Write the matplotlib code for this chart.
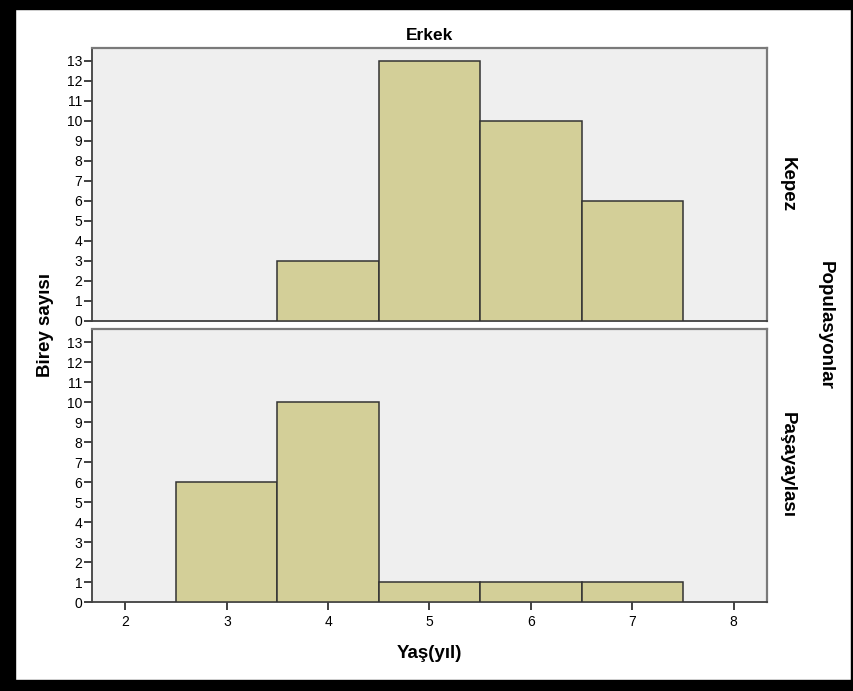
import matplotlib.pyplot as plt
from matplotlib.patches import Rectangle

plt.rcParams['font.family'] = ['Liberation Sans', 'DejaVu Sans']

ages = [3, 4, 5, 6, 7]
kepez = [0, 3, 13, 10, 6]
pasayaylasi = [6, 10, 1, 1, 1]
panel_names = ["Kepez", "Paşayaylası"]
x_ticks = [2, 3, 4, 5, 6, 7, 8]
y_ticks = list(range(0, 14))

bar_color = '#d3cf98'
bg = '#efefef'

fig = plt.figure(figsize=(8.54, 6.91), dpi=100)
W, H = 854, 691

def px_axes(x0, y0, x1, y1):
    return fig.add_axes([x0 / W, 1 - y1 / H, (x1 - x0) / W, (y1 - y0) / H])

ax1 = px_axes(92, 48, 767, 321)
ax2 = px_axes(92, 329, 767, 602)

for ax, counts, name in zip([ax1, ax2], [kepez, pasayaylasi], panel_names):
    ax.set_facecolor(bg)
    # skip empty bins so no flat outline is drawn on the baseline
    xs = [a for a, c in zip(ages, counts) if c > 0]
    hs = [c for c in counts if c > 0]
    ax.bar(xs, hs, width=1.0, color=bar_color, edgecolor='#333333',
           linewidth=1.1, zorder=3)
    ax.set_xlim(1.67, 8.33)
    ax.set_ylim(0, 13.65)
    ax.set_yticks(y_ticks)
    ax.tick_params(axis='y', direction='out', length=6, width=1.3,
                   color='#333333', labelsize=10, pad=1)
    ax.tick_params(axis='x', direction='out', length=6, width=1.3,
                   color='#333333', labelsize=10, pad=3)
    for s in ['left', 'bottom']:
        ax.spines[s].set_color('#404040')
        ax.spines[s].set_linewidth(1.3)
    for s in ['top', 'right']:
        ax.spines[s].set_color('#7a7a7a')
        ax.spines[s].set_linewidth(1.6)
    ax.text(1.018, 0.5, name, transform=ax.transAxes, rotation=-90,
            ha='left', va='center', fontsize=13.5, fontweight='bold')

ax1.set_xticks(x_ticks)
ax1.tick_params(axis='x', bottom=False, labelbottom=False)
ax2.set_xticks(x_ticks)
ax2.set_xlabel("Yaş(yıl)", fontsize=13.5, fontweight='bold', labelpad=12)
ax1.set_title("Erkek", fontsize=12.5, fontweight='bold', pad=6)

fig.text(45 / W, 1 - 325 / H, "Birey sayısı", rotation=90, ha='center',
         va='center', fontsize=13.5, fontweight='bold')
fig.text(825 / W, 1 - 325 / H, "Populasyonlar", rotation=-90, ha='center',
         va='center', fontsize=13.5, fontweight='bold')

# black frame around the figure
for x0, y0, w, h in [(0, 0, 15, H), (0, 0, W, 9), (0, 680, W, 11), (851, 0, 3, H)]:
    fig.patches.append(Rectangle((x0 / W, 1 - (y0 + h) / H), w / W, h / H,
                                 transform=fig.transFigure, color='black',
                                 zorder=10))

fig.savefig('out.png', dpi=100)
